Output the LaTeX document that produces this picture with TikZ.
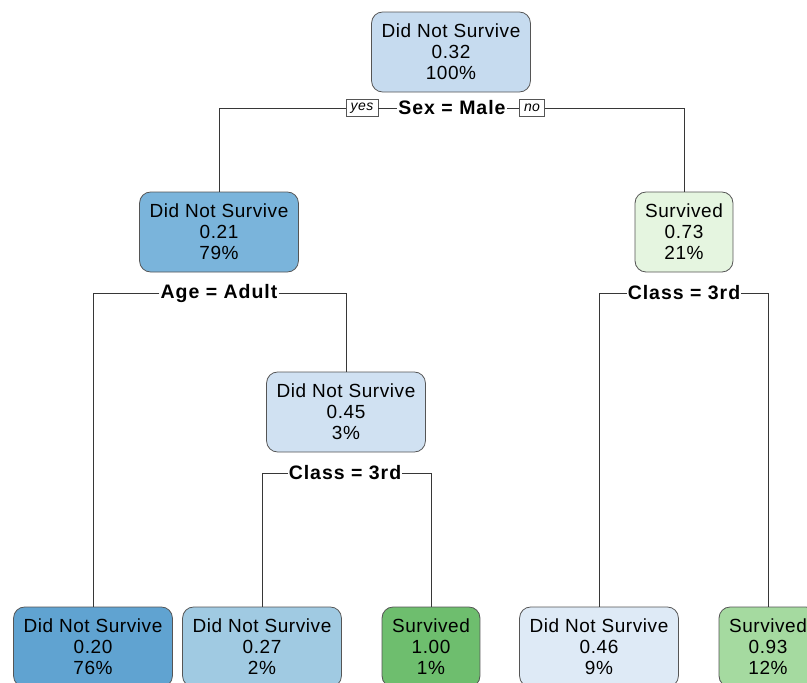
\documentclass[tikz,border=0pt]{standalone}
\usepackage{fontspec}
\setmainfont{Liberation Sans}[LetterSpace=3]
\definecolor{boxgray}{RGB}{85,85,85}
\definecolor{linegray}{RGB}{55,55,55}
\definecolor{blueA}{RGB}{198,219,239}
\definecolor{blueB}{RGB}{122,180,219}
\definecolor{blueC}{RGB}{208,225,242}
\definecolor{blueD}{RGB}{96,163,209}
\definecolor{blueE}{RGB}{160,202,226}
\definecolor{blueF}{RGB}{222,234,246}
\definecolor{greenA}{RGB}{229,245,224}
\definecolor{greenB}{RGB}{110,190,110}
\definecolor{greenC}{RGB}{165,218,160}
\begin{document}
\begin{tikzpicture}[x=1pt,y=-1pt]
% styles of boxes and labels
\tikzset{treebox/.style={draw=boxgray,line width=0.8pt,rounded corners=11pt,minimum height=80pt,inner xsep=10pt,align=center,font=\fontsize{19}{21}\selectfont},
         splitlabel/.style={font=\bfseries\fontsize{19.5}{21}\selectfont\addfontfeatures{LetterSpace=5},inner sep=1pt},
         yesno/.style={draw=boxgray,line width=0.6pt,font=\itshape\fontsize{14}{15}\selectfont,inner xsep=4.5pt,inner ysep=1pt,minimum height=17pt},
         edge/.style={draw=linegray,line width=0.9pt}}
\useasboundingbox (0,0) rectangle (807,683);
\clip (0,0) rectangle (807,683);

%nodes
\node[treebox,fill=blueA] (N1) at (451,52) {Did Not Survive\\0.32\\100\%};
\node[treebox,fill=blueB] (N2) at (219,232) {Did Not Survive\\0.21\\79\%};
\node[treebox,fill=greenA] (N3) at (684,232) {Survived\\0.73\\21\%};
\node[treebox,fill=blueC] (N4) at (346,412) {Did Not Survive\\0.45\\3\%};
%leaves
\node[treebox,fill=blueD] (N5) at (93,647) {Did Not Survive\\0.20\\76\%};
\node[treebox,fill=blueE] (N6) at (262,647) {Did Not Survive\\0.27\\2\%};
\node[treebox,fill=greenB] (N7) at (431,647) {Survived\\1.00\\1\%};
\node[treebox,fill=blueF] (N8) at (599,647) {Did Not Survive\\0.46\\9\%};
\node[treebox,fill=greenC] (N9) at (768,647) {Survived\\0.93\\12\%};

%splits
\node[splitlabel] (S1) at (452,108) {Sex = Male};
\node[yesno] (yes) at (362,108) {yes};
\node[yesno] (no) at (532,108) {no};
\node[splitlabel] (S2) at (219,293) {Age = Adult};
\node[splitlabel] (S3) at (345,473) {Class = 3rd};
\node[splitlabel] (S4) at (684,293) {Class = 3rd};

%connectors
\draw[edge] (yes.west) -| (N2.north);
\draw[edge] (yes.east) -- (S1.west);
\draw[edge] (S1.east) -- (no.west);
\draw[edge] (no.east) -| (N3.north);
\draw[edge] (S2.west) -| (N5.north);
\draw[edge] (S2.east) -| (N4.north);
\draw[edge] (S3.west) -| (N6.north);
\draw[edge] (S3.east) -| (N7.north);
\draw[edge] (S4.west) -| (N8.north);
\draw[edge] (S4.east) -| (N9.north);
\end{tikzpicture}
\end{document}
